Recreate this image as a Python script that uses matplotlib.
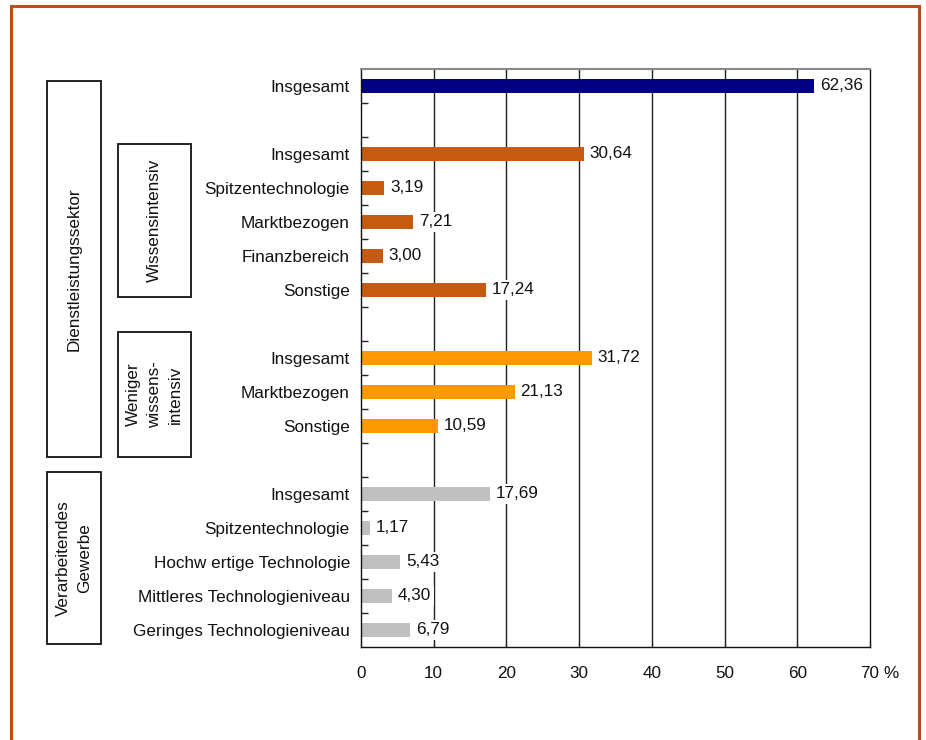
import matplotlib
matplotlib.use("Agg")
import matplotlib.pyplot as plt
from matplotlib.patches import Rectangle
from matplotlib.ticker import FixedLocator

plt.rcParams['font.family'] = ['Liberation Sans', 'DejaVu Sans']

# Row labels and shares (%) in drawing order, top to bottom
labels = [
    "Insgesamt",
    "Insgesamt", "Spitzentechnologie", "Marktbezogen", "Finanzbereich", "Sonstige",
    "Insgesamt", "Marktbezogen", "Sonstige",
    "Insgesamt", "Spitzentechnologie", "Hochw ertige Technologie",
    "Mittleres Technologieniveau", "Geringes Technologieniveau",
]
values = [62.36,
          30.64, 3.19, 7.21, 3.00, 17.24,
          31.72, 21.13, 10.59,
          17.69, 1.17, 5.43, 4.30, 6.79]
groups = ["total", "wi", "wi", "wi", "wi", "wi",
          "ww", "ww", "ww",
          "vg", "vg", "vg", "vg", "vg"]
slots = [0, 2, 3, 4, 5, 6, 8, 9, 10, 12, 13, 14, 15, 16]
group_colors = {"total": "#000080", "wi": "#C55A11", "ww": "#FF9900", "vg": "#C0C0C0"}
x_ticks = [0, 10, 20, 30, 40, 50, 60, 70]

FS = 12.3
W, H = 926, 740
fig = plt.figure(figsize=(W / 100, H / 100), dpi=100)

# orange frame around the whole figure
fig.patches.append(Rectangle((11 / W, -0.05), (919 - 11) / W, (H - 6) / H + 0.05,
                             transform=fig.transFigure, fill=False,
                             edgecolor="#B8501E", linewidth=2.2))

ax = fig.add_axes([361 / W, 1 - 647 / H, (870 - 361) / W, (647 - 69) / H])
ax.set_xlim(0, 70)
ax.set_ylim(16.5, -0.5)

for x in x_ticks[1:-1]:
    ax.axvline(x, color="#222222", linewidth=1.0, zorder=0)

colors = [group_colors[g] for g in groups]
ax.barh(slots, values, height=0.4, color=colors, zorder=2)

for y, v in zip(slots, values):
    ax.text(v + 0.8, y, f"{v:.2f}".replace(".", ","), va="center", ha="left",
            fontsize=FS, color="#111111", zorder=3,
            bbox=dict(boxstyle="square,pad=0.15", facecolor="white", edgecolor="none"))

ax.set_yticks(slots)
ax.set_yticklabels(labels, fontsize=FS, color="#111111")
ax.tick_params(axis="y", which="major", length=0, pad=8)
ax.yaxis.set_minor_locator(FixedLocator([s + 0.5 for s in range(16)]))
ax.tick_params(axis="y", which="minor", direction="in", length=5, width=1, color="#222222")

ax.set_xticks(x_ticks)
ax.set_xticklabels([str(t) for t in x_ticks], fontsize=FS, color="#111111")
ax.tick_params(axis="x", which="major", direction="in", length=4, pad=14, color="#222222")
fig.text(891 / W, 1 - 673 / H, "%", fontsize=FS, ha="center", va="center", color="#111111")

for side in ["left", "bottom", "right"]:
    ax.spines[side].set_color("#111111")
    ax.spines[side].set_linewidth(1.0)
ax.spines["top"].set_color("#888888")
ax.spines["top"].set_linewidth(1.5)

# group boxes with rotated titles
boxes = [
    (47, 81, 101, 457, "Dienstleistungssektor"),
    (118, 144, 191, 297, "Wissensintensiv"),
    (118, 332, 191, 457, "Weniger\nwissens-\nintensiv"),
    (47, 472, 101, 644, "Verarbeitendes\nGewerbe"),
]
for x0, y0, x1, y1, title in boxes:
    fig.patches.append(Rectangle((x0 / W, 1 - y1 / H), (x1 - x0) / W, (y1 - y0) / H,
                                 transform=fig.transFigure, fill=False,
                                 edgecolor="#111111", linewidth=1.3))
    fig.text((x0 + x1) / 2 / W, 1 - (y0 + y1) / 2 / H, title, rotation=90,
             ha="center", va="center", multialignment="center",
             fontsize=FS, color="#111111", linespacing=1.5)

fig.savefig("out.png", dpi=100, facecolor="white")
